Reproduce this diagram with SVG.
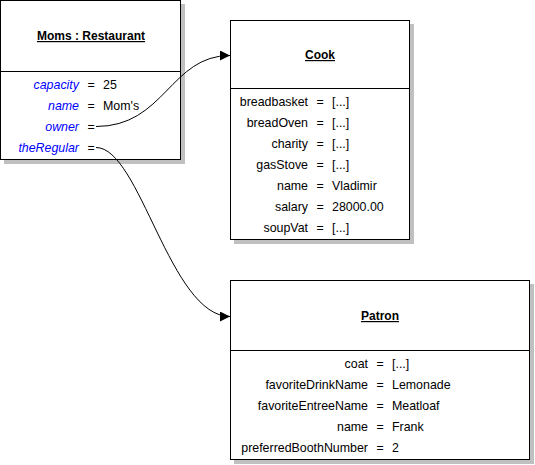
<svg xmlns="http://www.w3.org/2000/svg" width="535" height="465" viewBox="0 0 535 465">
<style>
text{font-family:"Liberation Sans",Arial,sans-serif;font-size:12.4px;fill:#000}
.box{fill:#fff;stroke:#000;stroke-width:1}
.sh{fill:#c0c0c0}
.div{stroke:#000;stroke-width:1}
.title{font-weight:bold;text-decoration:underline;text-anchor:middle;font-size:12px}
.k{text-anchor:end}
.kb{text-anchor:end;fill:#0000ff;font-style:italic}
.eq{text-anchor:middle}
.conn{fill:none;stroke:#000;stroke-width:1}
</style>
<defs>
<marker id="arr" viewBox="0 0 10 10" refX="10" refY="5" markerWidth="10" markerHeight="10" markerUnits="userSpaceOnUse" orient="auto">
<path d="M0,0 L10,5 L0,10 Z" fill="#000"/>
</marker>
</defs>
<g id="moms">
<rect class="sh" x="4" y="4" width="181" height="160"/>
<rect class="box" x="0.5" y="0.5" width="180" height="159"/>
<line class="div" x1="0.5" y1="71.5" x2="180.5" y2="71.5"/>
<text class="title" x="91" y="40">Moms : Restaurant</text>
<text class="kb" x="79" y="89">capacity</text><text class="eq" x="91" y="89">=</text><text x="103" y="89">25</text>
<text class="kb" x="79" y="110">name</text><text class="eq" x="91" y="110">=</text><text x="103" y="110">Mom's</text>
<text class="kb" x="79" y="131">owner</text><text class="eq" x="91" y="131">=</text>
<text class="kb" x="79" y="152">theRegular</text><text class="eq" x="91" y="152">=</text>
</g>
<g id="cook">
<rect class="sh" x="234" y="24" width="180" height="220"/>
<rect class="box" x="230.5" y="20.5" width="179" height="219"/>
<line class="div" x1="230.5" y1="88.5" x2="409.5" y2="88.5"/>
<text class="title" x="320" y="59">Cook</text>
<text class="k" x="308" y="106">breadbasket</text><text class="eq" x="320" y="106">=</text><text x="332" y="106">[...]</text>
<text class="k" x="308" y="127">breadOven</text><text class="eq" x="320" y="127">=</text><text x="332" y="127">[...]</text>
<text class="k" x="308" y="148">charity</text><text class="eq" x="320" y="148">=</text><text x="332" y="148">[...]</text>
<text class="k" x="308" y="169">gasStove</text><text class="eq" x="320" y="169">=</text><text x="332" y="169">[...]</text>
<text class="k" x="308" y="190">name</text><text class="eq" x="320" y="190">=</text><text x="332" y="190">Vladimir</text>
<text class="k" x="308" y="211">salary</text><text class="eq" x="320" y="211">=</text><text x="332" y="211">28000.00</text>
<text class="k" x="308" y="232">soupVat</text><text class="eq" x="320" y="232">=</text><text x="332" y="232">[...]</text>
</g>
<g id="patron">
<rect class="sh" x="234" y="284" width="300" height="180"/>
<rect class="box" x="230.5" y="280.5" width="299" height="179"/>
<line class="div" x1="230.5" y1="350.5" x2="529.5" y2="350.5"/>
<text class="title" x="380" y="320">Patron </text>
<text class="k" x="368" y="368">coat</text><text class="eq" x="380" y="368">=</text><text x="392" y="368">[...]</text>
<text class="k" x="368" y="389">favoriteDrinkName</text><text class="eq" x="380" y="389">=</text><text x="392" y="389">Lemonade</text>
<text class="k" x="368" y="410">favoriteEntreeName</text><text class="eq" x="380" y="410">=</text><text x="392" y="410">Meatloaf</text>
<text class="k" x="368" y="431">name</text><text class="eq" x="380" y="431">=</text><text x="392" y="431">Frank</text>
<text class="k" x="368" y="452">preferredBoothNumber</text><text class="eq" x="380" y="452">=</text><text x="392" y="452">2</text>
</g>
<g id="connectors">
<path class="conn" d="M96,126.5 C165,126.5 170,55.5 230,55.5" marker-end="url(#arr)"/>
<path class="conn" d="M96,147.5 C140,147.5 170,316.5 230,316.5" marker-end="url(#arr)"/>
</g>
</svg>
